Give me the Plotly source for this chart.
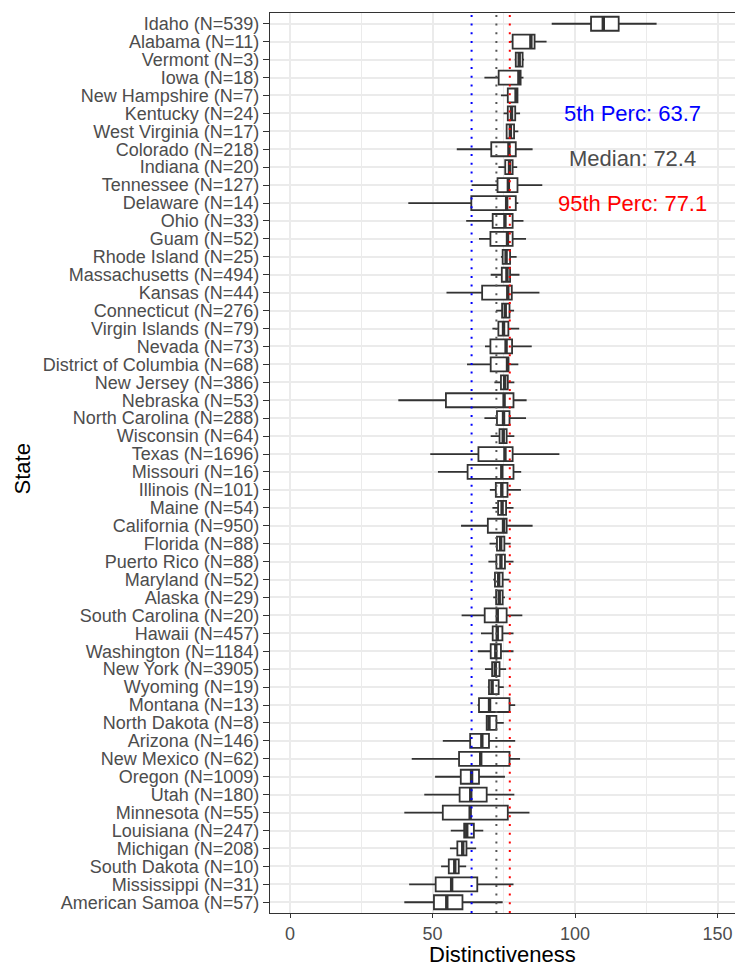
import plotly.graph_objects as go

states = ["Idaho", "Alabama", "Vermont", "Iowa", "New Hampshire", "Kentucky", "West Virginia",
          "Colorado", "Indiana", "Tennessee", "Delaware", "Ohio", "Guam", "Rhode Island",
          "Massachusetts", "Kansas", "Connecticut", "Virgin Islands", "Nevada",
          "District of Columbia", "New Jersey", "Nebraska", "North Carolina", "Wisconsin",
          "Texas", "Missouri", "Illinois", "Maine", "California", "Florida", "Puerto Rico",
          "Maryland", "Alaska", "South Carolina", "Hawaii", "Washington", "New York",
          "Wyoming", "Montana", "North Dakota", "Arizona", "New Mexico", "Oregon", "Utah",
          "Minnesota", "Louisiana", "Michigan", "South Dakota", "Mississippi", "American Samoa"]
counts = [539, 11, 3, 18, 7, 24, 17, 218, 20, 127, 14, 33, 52, 25, 494, 44, 276, 79, 73, 68,
          386, 53, 288, 64, 1696, 16, 101, 54, 950, 88, 88, 52, 29, 20, 457, 1184, 3905, 19,
          13, 8, 146, 62, 1009, 180, 55, 247, 208, 10, 31, 57]
lower = [91.8, 77.2, 78.8, 68.2, 74.0, 74.9, 75.8, 58.5, 73.1, 63.7, 41.5, 61.8, 66.3, 74.0,
         70.4, 54.9, 72.3, 71.0, 68.4, 62.1, 71.7, 38.0, 68.2, 70.4, 49.2, 51.9, 70.1, 71.0,
         60.0, 70.0, 69.6, 71.3, 71.3, 60.2, 67.0, 65.9, 68.4, 69.4, 65.8, 69.0, 53.6, 42.7,
         50.9, 47.1, 40.1, 56.4, 56.1, 53.0, 41.8, 40.1]
q1 = [105.6, 78.1, 79.2, 73.2, 76.4, 76.4, 76.0, 70.6, 75.5, 72.8, 63.6, 71.1, 70.3, 74.6,
      74.3, 67.4, 74.4, 73.1, 70.3, 70.4, 74.0, 54.7, 72.6, 73.5, 66.1, 62.3, 72.2, 73.0,
      69.4, 72.6, 72.4, 71.9, 72.3, 68.3, 71.1, 70.4, 70.9, 69.8, 66.3, 69.0, 63.2, 59.3,
      59.9, 59.5, 53.6, 61.1, 58.7, 55.7, 51.1, 50.5]
median = [109.9, 84.5, 80.4, 80.3, 79.3, 77.7, 77.3, 76.8, 77.0, 76.6, 76.0, 75.4, 76.3, 75.8,
          76.1, 76.4, 75.5, 74.9, 75.8, 76.3, 75.3, 75.1, 74.9, 74.8, 75.4, 74.3, 74.3, 74.4,
          74.9, 73.9, 74.0, 73.2, 73.4, 72.7, 72.7, 72.2, 72.0, 70.9, 70.0, 69.8, 67.3, 66.9,
          63.7, 63.4, 63.2, 62.0, 60.6, 57.8, 56.7, 55.0]
q3 = [115.3, 85.8, 81.6, 80.9, 79.8, 79.0, 78.6, 79.2, 78.1, 79.8, 79.2, 78.1, 78.1, 77.2,
      77.2, 77.8, 77.0, 76.6, 77.9, 76.6, 76.4, 78.4, 77.0, 76.0, 78.1, 78.4, 76.3, 75.8,
      76.0, 75.2, 75.4, 74.6, 74.6, 76.0, 74.5, 74.0, 73.5, 73.2, 77.0, 72.4, 69.8, 77.0,
      66.3, 69.0, 76.4, 64.5, 61.9, 59.2, 65.7, 60.5]
upper = [128.6, 90.0, 82.1, 81.9, 79.9, 80.7, 80.1, 85.1, 79.7, 88.5, 80.1, 81.9, 82.8, 79.5,
         80.5, 87.5, 78.6, 80.4, 84.8, 80.1, 78.7, 83.0, 82.8, 78.7, 94.5, 81.1, 81.0, 78.4,
         85.1, 77.4, 78.4, 77.0, 75.4, 81.5, 78.4, 78.4, 75.8, 75.0, 79.0, 75.0, 79.0, 80.7,
         75.4, 78.7, 84.0, 67.8, 65.3, 61.8, 78.4, 74.6]

perc5 = 63.7
perc50 = 72.4
perc95 = 77.1
x_ticks = [0, 50, 100, 150]

n = len(states)
labels = [f"{s} (N={c})" for s, c in zip(states, counts)]
positions = [n - i for i in range(n)]  # Idaho at top

FONT = "Liberation Sans, Arial, Helvetica, sans-serif"
BOXW = 0.78

fig = go.Figure()
fig.add_trace(go.Box(
    y=positions, q1=q1, median=median, q3=q3, lowerfence=lower, upperfence=upper,
    orientation="h", boxpoints=False, width=BOXW, whiskerwidth=0,
    fillcolor="white", line=dict(color="#333333", width=1.8),
    hoverinfo="skip", showlegend=False,
))

# thicker median segments (ggplot style)
mx, my = [], []
for p, m in zip(positions, median):
    mx += [m, m, None]
    my += [p - BOXW / 2, p + BOXW / 2, None]
fig.add_trace(go.Scatter(x=mx, y=my, mode="lines", line=dict(color="#333333", width=3.4),
                         hoverinfo="skip", showlegend=False))

for val, col in [(perc5, "#0000FF"), (perc50, "#555555"), (perc95, "#FF0000")]:
    fig.add_shape(type="line", xref="x", yref="paper", x0=val, x1=val, y0=0, y1=1,
                  line=dict(color=col, width=2, dash="2px,6.7px"), layer="above")

ann_x = 120
fig.add_annotation(x=ann_x, y=45, text=f"5th Perc: {perc5}", showarrow=False,
                   font=dict(family=FONT, size=22, color="#0000FF"))
fig.add_annotation(x=ann_x, y=42.5, text=f"Median: {perc50}", showarrow=False,
                   font=dict(family=FONT, size=22, color="#4D4D4D"))
fig.add_annotation(x=ann_x, y=40, text=f"95th Perc: {perc95}", showarrow=False,
                   font=dict(family=FONT, size=22, color="#FF0000"))

fig.add_annotation(xref="paper", yref="paper", x=-0.533, y=0.493, text="State",
                   textangle=-90, showarrow=False, xanchor="center", yanchor="middle",
                   font=dict(family=FONT, size=22, color="black"))
fig.add_annotation(xref="paper", yref="paper", x=0.501, y=-0.0458, text="Distinctiveness",
                   showarrow=False, xanchor="center", yanchor="middle",
                   font=dict(family=FONT, size=22, color="black"))

fig.update_layout(
    width=735, height=965,
    margin=dict(l=270, r=0, t=13, b=52, autoexpand=False),
    paper_bgcolor="white", plot_bgcolor="white",
    font=dict(family=FONT, size=18, color="#4D4D4D"),
    xaxis=dict(range=[-7.015, 156.1], tickvals=x_ticks, ticktext=[str(t) for t in x_ticks],
               automargin=False,
               showgrid=True, gridcolor="#EBEBEB", gridwidth=1.5,
               minor=dict(tickvals=[25, 75, 125], showgrid=True, gridcolor="#EBEBEB",
                          gridwidth=0.8, ticks=""),
               zeroline=False, showline=True, linecolor="#333333", linewidth=1.3, mirror=True,
               ticks="outside", ticklen=4, tickcolor="#333333", tickwidth=1.3,
               tickfont=dict(family=FONT, size=18, color="#4D4D4D")),
    yaxis=dict(range=[0.4, n + 0.6], tickvals=positions, ticktext=labels,
               automargin=False,
               showgrid=True, gridcolor="#EBEBEB", gridwidth=1.5,
               zeroline=False, showline=True, linecolor="#333333", linewidth=1.3, mirror=True,
               ticks="outside", ticklen=6, tickcolor="#333333", tickwidth=1.3,
               tickfont=dict(family=FONT, size=18, color="#4D4D4D")),
)

fig.write_html("out.html", config={"displayModeBar": False},
               post_script="document.body.style.margin='0';document.body.style.overflow='hidden';")
